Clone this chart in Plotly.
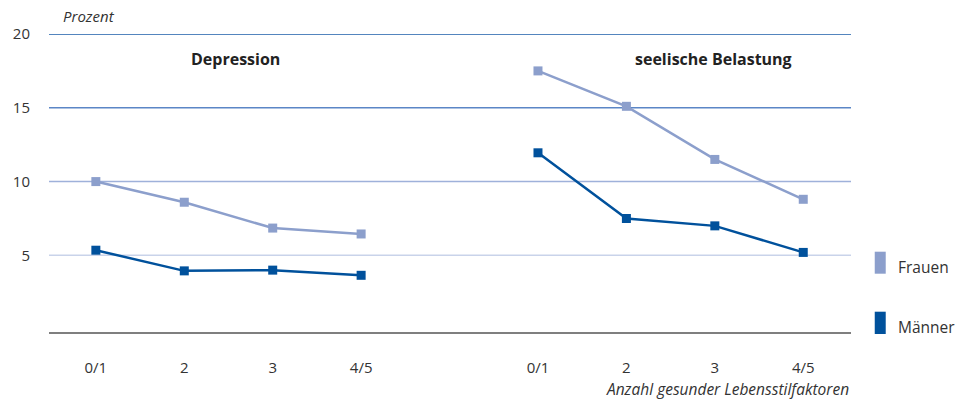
import plotly.graph_objects as go

categories = ["0/1", "2", "3", "4/5"]
x_depression = [0, 1, 2, 3]
x_belastung = [5, 6, 7, 8]

dep_frauen = [10.0, 8.6, 6.85, 6.45]
dep_maenner = [5.35, 3.95, 4.0, 3.65]
bel_frauen = [17.5, 15.1, 11.5, 8.8]
bel_maenner = [11.95, 7.5, 7.0, 5.2]

grid_vals = [20, 15, 10, 5]
grid_colors = ["#1a5ca8", "#5b86c6", "#9fb1da", "#c9d3ea"]

color_frauen = "#8c9fcc"
color_maenner = "#00519c"
text_color = "#333333"
font_family = "Open Sans, Lato, sans-serif"

fig = go.Figure()

for xs, ys, col in [
    (x_depression, dep_frauen, color_frauen),
    (x_depression, dep_maenner, color_maenner),
    (x_belastung, bel_frauen, color_frauen),
    (x_belastung, bel_maenner, color_maenner),
]:
    fig.add_trace(go.Scatter(
        x=xs, y=ys, mode="lines+markers",
        line=dict(color=col, width=2.5),
        marker=dict(symbol="square", size=9, color=col),
        showlegend=False, hoverinfo="skip",
    ))

shapes = []
for gv, gc in zip(grid_vals, grid_colors):
    shapes.append(dict(type="line", xref="paper", yref="y", x0=0, x1=1, y0=gv, y1=gv,
                       line=dict(color=gc, width=1.5), layer="below"))
# baseline
shapes.append(dict(type="line", xref="paper", yref="paper", x0=0, x1=1, y0=0, y1=0,
                   line=dict(color="#555555", width=1.5)))
# legend rectangles
shapes.append(dict(type="rect", xref="paper", yref="paper", x0=1.0296, x1=1.0433,
                   y0=(333 - 273.7) / 299, y1=(333 - 251.7) / 299,
                   fillcolor=color_frauen, line=dict(width=0)))
shapes.append(dict(type="rect", xref="paper", yref="paper", x0=1.0296, x1=1.0433,
                   y0=(333 - 334) / 299, y1=(333 - 311.7) / 299,
                   fillcolor=color_maenner, line=dict(width=0)))

annotations = [
    dict(text="Prozent", xref="paper", yref="paper", x=(61 - 49) / 802, y=(333 - 16) / 299,
         xanchor="left", yanchor="middle", showarrow=False,
         font=dict(family=font_family, size=15, color=text_color, style="italic")),
    dict(text="<b>Depression</b>", xref="paper", yref="paper", x=(235 - 49) / 802,
         y=(333 - 59) / 299, xanchor="center", yanchor="middle", showarrow=False,
         font=dict(family=font_family, size=16, color="#222222")),
    dict(text="<b>seelische Belastung</b>", xref="paper", yref="paper", x=(713 - 49) / 802,
         y=(333 - 59) / 299, xanchor="center", yanchor="middle", showarrow=False,
         font=dict(family=font_family, size=16, color="#222222")),
    dict(text="Anzahl gesunder Lebensstilfaktoren", xref="paper", yref="paper", x=1.0,
         y=(333 - 389) / 299, xanchor="right", yanchor="middle", showarrow=False,
         font=dict(family=font_family, size=15.5, color=text_color, style="italic")),
    dict(text="Frauen", xref="paper", yref="paper", x=(896 - 49) / 802, y=(333 - 267) / 299,
         xanchor="left", yanchor="middle", showarrow=False,
         font=dict(family=font_family, size=15.5, color=text_color)),
    dict(text="Männer", xref="paper", yref="paper", x=(896 - 49) / 802, y=(333 - 327) / 299,
         xanchor="left", yanchor="middle", showarrow=False,
         font=dict(family=font_family, size=15.5, color=text_color)),
]

fig.update_layout(
    width=959, height=401,
    margin=dict(l=49, r=108, t=34, b=68),
    paper_bgcolor="white", plot_bgcolor="white",
    shapes=shapes, annotations=annotations,
    showlegend=False,
    font=dict(family=font_family, color=text_color),
    xaxis=dict(
        range=[-0.53, 8.54], tickmode="array",
        tickvals=x_depression + x_belastung, ticktext=categories + categories,
        showgrid=False, zeroline=False, showline=False, ticks="",
        tickfont=dict(size=15, color=text_color), ticklabelstandoff=24,
        fixedrange=True,
    ),
    yaxis=dict(
        range=[-0.26, 20], tickmode="array", tickvals=grid_vals,
        ticktext=[str(v) for v in grid_vals],
        showgrid=False, zeroline=False, showline=False, ticks="",
        tickfont=dict(size=15, color=text_color), ticklabelstandoff=18,
        fixedrange=True,
    ),
)

fig.write_html(
    "out.html",
    config={"displayModeBar": False},
    post_script="document.body.style.margin='0';document.body.style.overflow='hidden';",
)
